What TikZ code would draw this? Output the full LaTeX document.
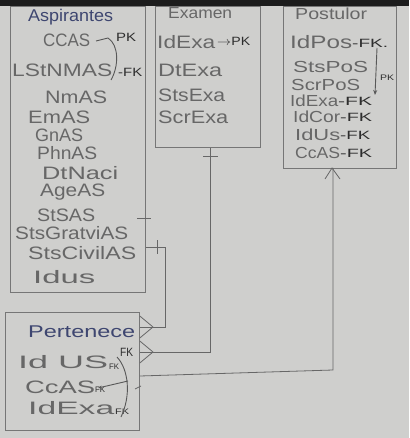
\documentclass[tikz,border=0pt]{standalone}
\usepackage{graphicx}
\usepackage{fontspec}
\setmainfont{Liberation Sans}
\usetikzlibrary{arrows.meta}
\definecolor{paper}{HTML}{CFCFCD}
\definecolor{pencil}{HTML}{676767}
\definecolor{inkb}{HTML}{3E4670}
\definecolor{dark}{HTML}{2E2E2E}
\definecolor{strip}{HTML}{1C1C1C}
\newcommand{\hw}[2]{\resizebox{#1pt}{\height}{#2}}
\tikzset{
  attr/.style={anchor=west, inner sep=0pt, text=pencil, font=\fontsize{18}{18}\selectfont},
  sattr/.style={anchor=west, inner sep=0pt, text=pencil, font=\fontsize{16}{16}\selectfont},
  ttl/.style={anchor=west, inner sep=0pt, text=inkb, font=\fontsize{17}{17}\selectfont},
  key/.style={anchor=west, inner sep=0pt, text=dark, font=\fontsize{12}{12}\selectfont},
  sub/.style={anchor=west, inner sep=0pt, text=dark, font=\fontsize{8}{8}\selectfont},
  box/.style={draw=pencil!90, line width=0.8pt, anchor=north west, inner sep=0pt},
  conn/.style={draw=pencil, line width=0.8pt},
  inkline/.style={draw=dark!80, line width=0.9pt},
}
\begin{document}
\begin{tikzpicture}[x=1pt,y=-1pt]
\fill[paper] (0,0) rectangle (409,438);
\useasboundingbox (0,0) rectangle (409,438);
\fill[strip] (0,0) rectangle (409,6);

% entity boxes
\node[box, minimum width=135pt, minimum height=286pt] (asp) at (10,6) {};
\node[box, minimum width=105pt, minimum height=141pt] (exa) at (155,6) {};
\node[box, minimum width=113pt, minimum height=162pt] (pos) at (283,6) {};
\node[box, minimum width=134pt, minimum height=118pt] (per) at (5,312) {};

% Aspirantes
\node[ttl] (a0) at (28,17) {\hw{85}{Aspirantes}};
\node[attr] (a1) at (43,40) {\hw{47}{CCAS}};
\node[key] (a1k) at (116,37) {\hw{20}{PK}};
\node[attr] (a2) at (12,70) {\hw{100}{LStNMAS}};
\node[key] (a2k) at (118,72) {\hw{24}{-FK}};
\node[attr] (a3) at (45,97) {\hw{62}{NmAS}};
\node[attr] (a4) at (28,117) {\hw{62}{EmAS}};
\node[attr] (a5) at (35,135) {\hw{48}{GnAS}};
\node[attr] (a6) at (37,153) {\hw{60}{PhnAS}};
\node[attr] (a7) at (42,173) {\hw{76}{DtNaci}};
\node[attr] (a8) at (40,192) {\hw{65}{AgeAS}};
\node[attr] (a9) at (37,215) {\hw{58}{StSAS}};
\node[attr] (a10) at (15,233) {\hw{113}{StsGratviAS}};
\node[attr] (a11) at (28,253) {\hw{108}{StsCivilAS}};
\node[attr] (a12) at (33,277) {\hw{62}{Idus}};
\draw[inkline] (96,41) -- (108,38) .. controls (119,45) and (119,66) .. (111,80);

% Examen
\node[sattr] (e0) at (168,13) {\hw{64}{Examen}};
\node[attr] (e1) at (157,42) {\hw{58}{IdExa}};
\node[key] (e1k) at (217,41) {\hw{33}{$\rightarrow$PK}};
\node[attr] (e2) at (158,70) {\hw{64}{DtExa}};
\node[attr] (e3) at (158,95) {\hw{67}{StsExa}};
\node[attr] (e4) at (158,117) {\hw{70}{ScrExa}};

% Postulor
\node[sattr] (p0) at (295,14) {\hw{72}{Postulor}};
\node[attr] (p1) at (290,42) {\hw{62}{IdPos}};
\node[key] (p1k) at (352,43) {\hw{36}{-FK.}};
\node[sattr] (p2) at (293,67) {\hw{75}{StsPoS}};
\node[sattr] (p3) at (291,85) {\hw{69}{ScrPoS}};
\node[sattr] (p4) at (290,101) {\hw{48}{IdExa}};
\node[key] (p4k) at (338,101) {\hw{34}{-FK}};
\node[sattr] (p5) at (293,117) {\hw{47}{IdCor}};
\node[key] (p5k) at (340,117) {\hw{32}{-FK}};
\node[sattr] (p6) at (295,135) {\hw{45}{IdUs}};
\node[key] (p6k) at (340,135) {\hw{30}{-FK}};
\node[sattr] (p7) at (295,153) {\hw{45}{CcAS}};
\node[key] (p7k) at (340,153) {\hw{32}{-FK}};
\draw[inkline, -{Stealth[length=5pt,width=4pt]}] (377,48) -- (375,95);
\node[sub] (pk) at (380,78) {\hw{14}{PK}};

% Pertenece
\node[ttl] (r0) at (28,332) {\hw{107}{Pertenece}};
\node[attr] (r1) at (18,362) {\hw{90}{Id US}};
\node[sub] (r1k) at (109,367) {\hw{10}{FK}};
\node[key] (r1f) at (120,352) {\hw{13}{FK}};
\node[attr] (r2) at (25,387) {\hw{70}{CcAS}};
\node[sub] (r2k) at (95,390) {\hw{10}{FK}};
\node[attr] (r3) at (28,408) {\hw{86}{IdExa}};
\node[sub] (r3k) at (115,412) {\hw{14}{FK}};
\draw[inkline] (117,357) .. controls (129,370) and (131,396) .. (121,417);
\draw[inkline, -{Stealth[length=4pt,width=3pt]}] (128,381) -- (98,388);

% relationship Aspirantes -- Pertenece
\coordinate (c1a) at (asp.east |- 0,247);
\coordinate (c1b) at (165,327);
\coordinate (c1t) at (153,327);
\draw[conn] (c1a) -| (c1b) -- (per.east |- c1b);
\draw[conn] (157,240) -- (157,254);
\draw[conn] (137,218) -- (151,218);
\draw[conn] (c1t) -- (per.east |- 0,316) (c1t) -- (per.east |- 0,338);

% relationship Examen -- Pertenece
\coordinate (c2a) at (exa.south -| 210,0);
\coordinate (c2b) at (210,352);
\coordinate (c2t) at (153,352);
\draw[conn] (c2a) -- (c2b) -- (per.east |- c2b);
\draw[conn] (203,156) -- (218,156);
\draw[conn] (c2t) -- (per.east |- 0,341) (c2t) -- (per.east |- 0,363);

% relationship Postulor -- Pertenece
\coordinate (c3a) at (333,168);
\coordinate (c3b) at (333,370);
\draw[conn] (c3a) -- (c3b) -- (per.east |- 0,376);
\draw[conn] (325,179) -- (332,168) -- (340,179);
\draw[conn] (135,389) -- (141,386);
\end{tikzpicture}
\end{document}
